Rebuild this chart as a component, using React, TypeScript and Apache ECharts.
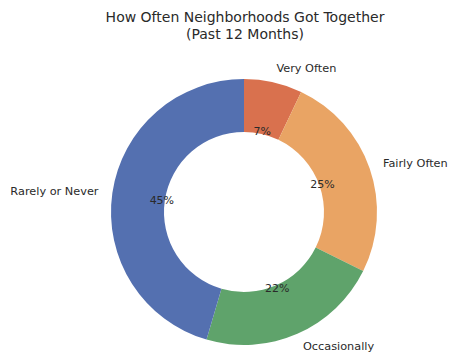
import React, { useEffect, useRef } from "react";
import * as echarts from "echarts";

const categories = ["Very Often", "Fairly Often", "Occasionally", "Rarely or Never"];
const values = [7, 25, 22, 45];
const colors = ["#D9714E", "#E9A464", "#5FA36B", "#5470B0"];
const titleText = "How Often Neighborhoods Got Together\n(Past 12 Months)";

export default function App() {
  const ref = useRef<HTMLDivElement>(null);
  useEffect(() => {
    if (!ref.current) return;
    const chart = echarts.init(ref.current, undefined, { renderer: "svg" });
    const data = categories.map((name, i) => ({
      name,
      value: values[i],
      itemStyle: { color: colors[i] },
    }));
    chart.setOption({
      animation: false,
      title: {
        text: titleText,
        left: 240,
        top: 3,
        textAlign: "center",
        textStyle: {
          fontFamily: "DejaVu Sans",
          fontSize: 14,
          fontWeight: "normal",
          color: "#2a2a2a",
          lineHeight: 17,
        },
      },
      series: [
        {
          type: "pie",
          center: [244, 212],
          radius: [80, 133],
          startAngle: 90,
          clockwise: true,
          avoidLabelOverlap: false,
          silent: true,
          data,
          label: {
            show: true,
            position: "outside",
            formatter: "{b}",
            fontFamily: "DejaVu Sans",
            fontSize: 11.3,
            color: "#2a2a2a",
            distanceToLabelLine: 0,
          },
          labelLine: { show: false, length: 14, length2: 0 },
          emphasis: { disabled: true },
        },
        {
          type: "pie",
          center: [244, 212],
          radius: [0, 160],
          startAngle: 90,
          clockwise: true,
          silent: true,
          z: 5,
          data: categories.map((name, i) => ({ name, value: values[i] })),
          itemStyle: { color: "rgba(0,0,0,0)" },
          label: {
            show: true,
            position: "inside",
            formatter: "{c}%",
            fontFamily: "DejaVu Sans",
            fontSize: 11,
            color: "#2a2a2a",
          },
          labelLine: { show: false },
          emphasis: { disabled: true },
        },
      ],
    });
    return () => chart.dispose();
  }, []);
  return (
    <div
      ref={ref}
      style={{ position: "absolute", left: 0, top: 0, width: 451, height: 358, background: "#fff" }}
    />
  );
}
